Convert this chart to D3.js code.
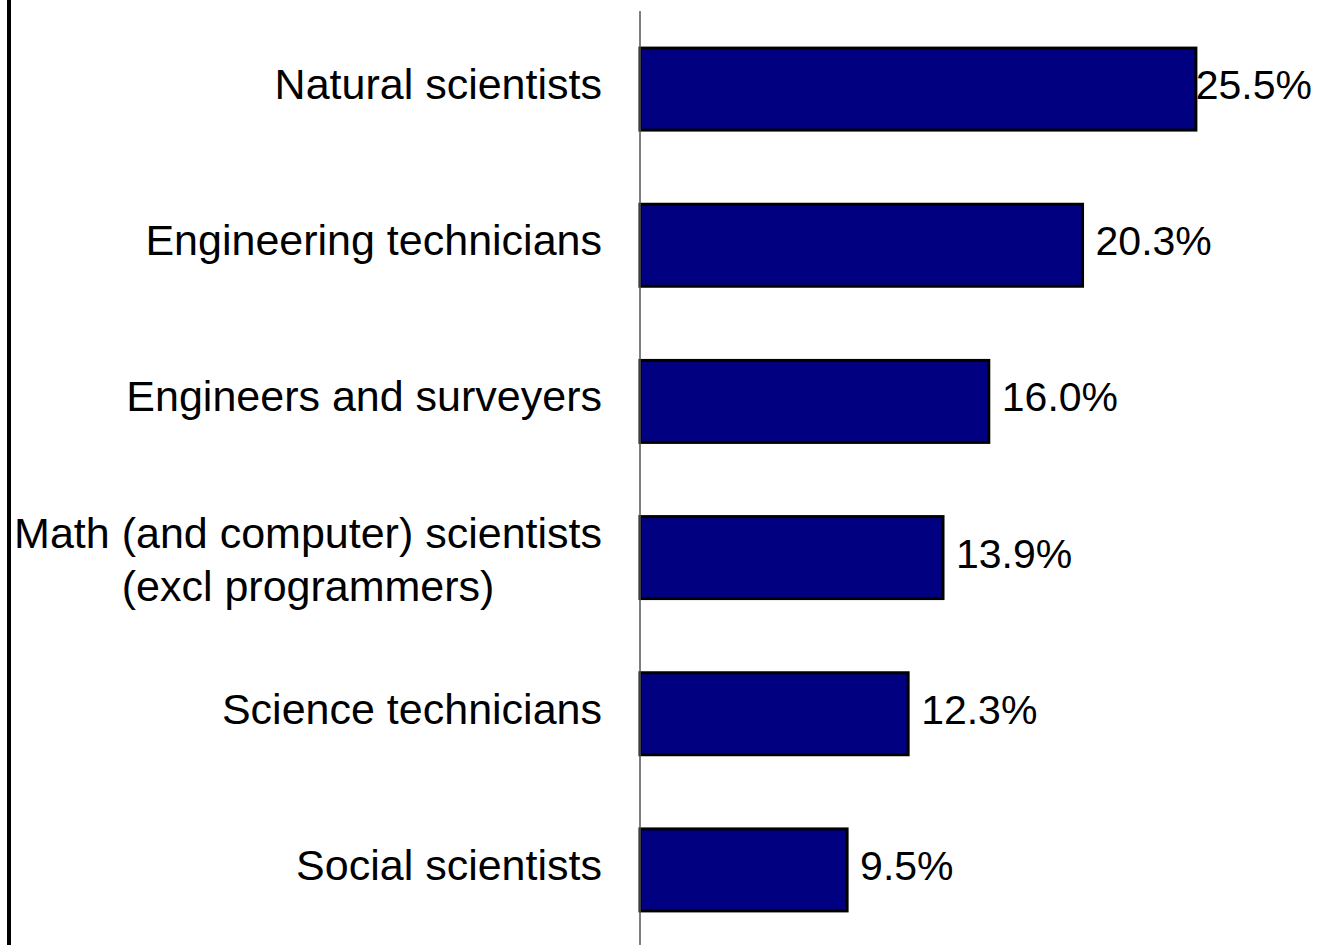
<!DOCTYPE html>
<html>
<head>
<meta charset="utf-8">
<script src="https://cdn.jsdelivr.net/npm/d3@7"></script>
<style>
  body { margin: 0; background: #fff; }
  svg { display: block; }
</style>
</head>
<body>
<div id="vis1"></div>
<script>
// occupations, top to bottom
var categories = [
  ["Natural scientists"],
  ["Engineering technicians"],
  ["Engineers and surveyers"],
  ["Math (and computer) scientists", "(excl programmers)"],
  ["Science technicians"],
  ["Social scientists"]
];
var values = [25.5, 20.3, 16.0, 13.9, 12.3, 9.5];
var valueLabels = ["25.5%", "20.3%", "16.0%", "13.9%", "12.3%", "9.5%"];

var width = 1321, height = 945;

var svg = d3.select("#vis1")
  .append("svg")
    .attr("width", width)
    .attr("height", height)
    .style("font-family", "'Liberation Sans', Arial, sans-serif");

// left border
svg.append("rect")
  .attr("x", 7)
  .attr("y", 0)
  .attr("width", 4)
  .attr("height", height)
  .style("fill", "black");

var x = d3.scaleLinear()
  .domain([0, 30])
  .range([640, 640 + 30 * 21.8]);

var y = d3.scaleBand()
  .domain(d3.range(values.length))
  .range([11, 948])
  .paddingInner(0.475)
  .paddingOuter(0.2375);

svg.selectAll("rect.bar")
  .data(values)
  .enter()
  .append("rect")
  .attr("class", "bar")
  .attr("x", x(0))
  .attr("y", function(d, i) { return y(i); })
  .attr("width", function(d) { return x(d) - x(0); })
  .attr("height", y.bandwidth())
  .style("fill", "#000080")
  .style("stroke", "black")
  .style("stroke-width", 3);

// axis line
svg.append("line")
  .attr("x1", x(0))
  .attr("x2", x(0))
  .attr("y1", 11)
  .attr("y2", height)
  .style("stroke", "#555")
  .style("stroke-width", 1.5);

// category labels
var lh = 53;
svg.selectAll("text.cat")
  .data(categories)
  .enter()
  .append("text")
  .attr("class", "cat")
  .attr("text-anchor", "middle")
  .style("font-size", "43px")
  .style("fill", "black")
  .each(function(d, i) {
    var t = d3.select(this);
    var cy = y(i) + y.bandwidth() / 2;
    var base = cy + 10 - (d.length - 1) * 20;
    d.forEach(function(line, j) {
      t.append("tspan")
        .attr("x", 0)
        .attr("y", base + j * lh)
        .text(line);
    });
  });

// right-align the block, centre lines within it
svg.selectAll("text.cat").each(function() {
  var w = this.getBBox().width;
  d3.select(this).selectAll("tspan").attr("x", 602 - w / 2);
});

// value labels
svg.selectAll("text.val")
  .data(values)
  .enter()
  .append("text")
  .attr("class", "val")
  .attr("y", function(d, i) { return y(i) + y.bandwidth() / 2 + 10; })
  .style("font-size", "41px")
  .style("fill", "black")
  .text(function(d, i) { return valueLabels[i]; })
  .attr("x", function(d) {
    var tw = this.getComputedTextLength();
    return Math.min(x(d) + 13, width - 9 - tw);
  });
</script>
</body>
</html>
